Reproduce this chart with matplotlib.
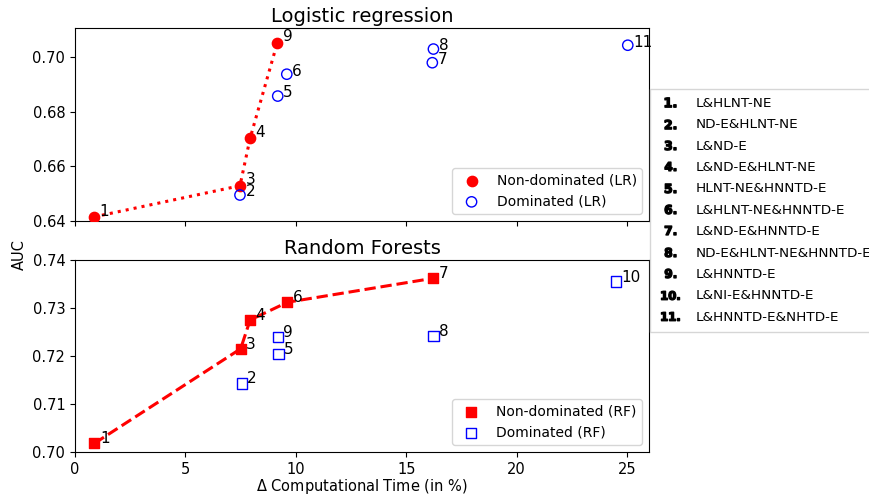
import numpy as np
import matplotlib
matplotlib.use('Agg')
import matplotlib.pyplot as plt
from matplotlib.lines import Line2D

# Logistic regression
lr_nd_id = [1, 3, 4, 9]
lr_nd_x = [0.86, 7.47, 7.93, 9.16]
lr_nd_y = [0.6415, 0.6529, 0.6703, 0.7052]
lr_d_id = [2, 5, 6, 7, 8, 11]
lr_d_x = [7.47, 9.18, 9.59, 16.18, 16.23, 25.03]
lr_d_y = [0.6495, 0.6857, 0.6937, 0.6979, 0.7029, 0.7043]

# Random forests
rf_nd_id = [1, 3, 4, 6, 7]
rf_nd_x = [0.88, 7.50, 7.93, 9.62, 16.23]
rf_nd_y = [0.7018, 0.7215, 0.7275, 0.7312, 0.7362]
rf_d_id = [2, 5, 8, 9, 10]
rf_d_x = [7.55, 9.21, 16.23, 9.18, 24.50]
rf_d_y = [0.7143, 0.7204, 0.7242, 0.7239, 0.7355]

names = ["L&HLNT-NE", "ND-E&HLNT-NE", "L&ND-E", "L&ND-E&HLNT-NE",
         "HLNT-NE&HNNTD-E", "L&HLNT-NE&HNNTD-E", "L&ND-E&HNNTD-E",
         "ND-E&HLNT-NE&HNNTD-E", "L&HNNTD-E", "L&NI-E&HNNTD-E",
         "L&HNNTD-E&NHTD-E"]

plt.rcParams['xtick.labelsize'] = 10.5
plt.rcParams['ytick.labelsize'] = 10.5

fig = plt.figure(figsize=(8.7, 5), dpi=100)
ax1 = fig.add_axes([0.0862, 0.558, 0.66, 0.386])
ax2 = fig.add_axes([0.0862, 0.096, 0.66, 0.384])


def label_points(ax, ids, xs, ys, dy=0):
    for i, x, y in zip(ids, xs, ys):
        ax.annotate(str(i), (x, y), xytext=(4, dy), textcoords='offset points',
                    fontsize=11)


ax1.plot(lr_nd_x, lr_nd_y, 'r:', lw=2.2)
ax1.scatter(lr_nd_x, lr_nd_y, s=55, c='red', marker='o', zorder=3,
            label='Non-dominated (LR)')
ax1.scatter(lr_d_x, lr_d_y, s=55, facecolors='none', edgecolors='blue',
            marker='o', zorder=3, label='Dominated (LR)')
label_points(ax1, lr_nd_id, lr_nd_x, lr_nd_y, dy=1)
label_points(ax1, lr_d_id, lr_d_x, lr_d_y, dy=-1)
ax1.set_xlim(0, 26)
ax1.set_ylim(0.64, 0.7106)
ax1.set_yticks([0.64, 0.66, 0.68, 0.70])
ax1.set_xticks([0, 5, 10, 15, 20, 25])
ax1.set_xticklabels([])
ax1.set_title('Logistic regression', fontsize=14, pad=4)
ax1.legend(loc='lower right', fontsize=10)

ax2.plot(rf_nd_x, rf_nd_y, 'r--', lw=2.2)
ax2.scatter(rf_nd_x, rf_nd_y, s=55, c='red', marker='s', zorder=3,
            label='Non-dominated (RF)')
ax2.scatter(rf_d_x, rf_d_y, s=55, facecolors='none', edgecolors='blue',
            marker='s', zorder=3, label='Dominated (RF)')
label_points(ax2, rf_nd_id, rf_nd_x, rf_nd_y)
label_points(ax2, rf_d_id, rf_d_x, rf_d_y)
ax2.set_xlim(0, 26)
ax2.set_ylim(0.70, 0.74)
ax2.set_yticks([0.70, 0.71, 0.72, 0.73, 0.74])
ax2.set_xticks([0, 5, 10, 15, 20, 25])
ax2.set_title('Random Forests', fontsize=14, pad=4)
ax2.set_xlabel(r'$\Delta$ Computational Time (in %)', fontsize=10.5, labelpad=0)
ax2.legend(loc='lower right', fontsize=10)

fig.text(0.022, 0.49, 'AUC', rotation=90, va='center', ha='center', fontsize=10.5)

handles = [Line2D([], [], linestyle='', color='black',
                  marker=r'$\mathbf{%d.}$' % (k + 1),
                  markersize=8 if k < 9 else 13)
           for k in range(len(names))]
fig.legend(handles, names, loc='upper left', bbox_to_anchor=(0.747, 0.822),
           fontsize=9.7, frameon=True, fancybox=False, borderpad=0.6,
           labelspacing=0.62, handletextpad=1.0, handlelength=1.8,
           borderaxespad=0)

fig.savefig('out.png', dpi=100)
